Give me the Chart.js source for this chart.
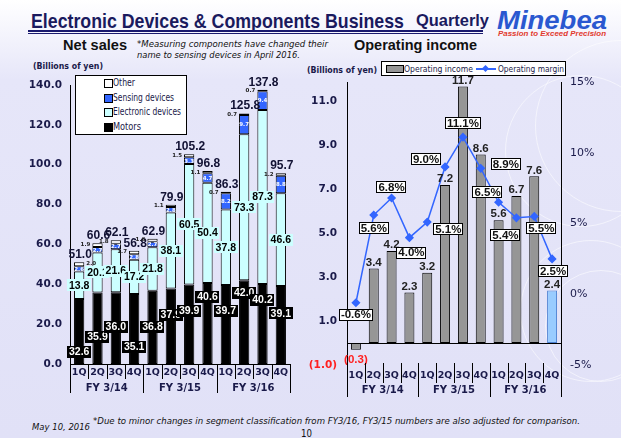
<!DOCTYPE html>
<html><head><meta charset="utf-8">
<script src="https://cdn.jsdelivr.net/npm/chart.js@4.4.0/dist/chart.umd.min.js"></script>
<style>
html,body{margin:0;padding:0}
body{width:621px;height:438px;position:relative;overflow:hidden;
 background:linear-gradient(to bottom,#ffffff 0px,#f6f6fd 28px,#e6e6f9 80px,#e1e1f7 438px);
 font-family:'Liberation Sans',Arial,sans-serif;color:#111}
.t{position:absolute;white-space:nowrap;transform-origin:0 50%;line-height:1;transform:translateY(-50%)}
.tah{font-family:'DejaVu Sans',sans-serif}
.circ{position:absolute;border:1.5px solid rgba(255,255,255,0.55);border-radius:50%}
canvas{position:absolute;z-index:2}
.lg{position:absolute;background:#fff;border:1px solid #000;box-sizing:border-box}
.sw{position:absolute;width:7px;height:7px;border:1px solid #000;box-sizing:content-box}
</style></head>
<body>
<div class="circ" style="left:505px;top:75px;width:150px;height:150px"></div>
<div class="circ" style="left:535px;top:40px;width:170px;height:170px"></div>
<div class="circ" style="left:545px;top:270px;width:110px;height:110px"></div>
<div class="circ" style="left:520px;top:240px;width:140px;height:140px"></div>

<div class="t" data-w="373" style="left:31px;top:20px;font-size:21px;font-weight:bold;color:#1a1a5e">Electronic Devices &amp; Components Business</div>
<div class="t" data-w="73" style="left:416px;top:21px;font-size:16px;font-weight:bold;color:#1a1a5e">Quarterly</div>
<div style="position:absolute;left:28px;top:30px;width:455px;height:2px;background:#1a1a6e"></div>
<div style="position:absolute;left:28px;top:33px;width:455px;height:1px;background:#1a1a6e"></div>
<div class="t" data-w="110" style="left:497px;top:20px;font-size:25px;font-weight:bold;font-style:italic;color:#2a58d0">Minebea</div>
<div class="t" data-w="108" style="left:498px;top:33px;font-size:7px;font-weight:bold;font-style:italic;color:#e23a2e">Passion to Exceed Precision</div>

<div class="t" data-w="64" style="left:63px;top:44px;font-size:15px;font-weight:bold">Net sales</div>
<div class="t tah" data-w="191" style="left:137px;top:44px;font-size:9.5px;font-style:italic">*Measuring components have changed their</div>
<div class="t tah" data-w="163" style="left:137px;top:55px;font-size:9.5px;font-style:italic">name to sensing devices in April 2016.</div>
<div class="t" data-w="123" style="left:354px;top:44px;font-size:15px;font-weight:bold">Operating income</div>
<div class="t tah" data-w="70" style="left:33px;top:66px;font-size:9.5px;font-weight:bold;color:#1a1a4a">(Billions of yen)</div>
<div class="t tah" data-w="70" style="left:307px;top:70px;font-size:9.5px;font-weight:bold;color:#1a1a4a">(Billions of yen)</div>

<div class="lg" style="left:75px;top:75px;width:112px;height:60px"></div>
<div class="sw" style="left:104px;top:79px;background:#fff"></div>
<div class="sw" style="left:104px;top:94px;background:#3366ff"></div>
<div class="sw" style="left:104px;top:108px;background:#ccffff"></div>
<div class="sw" style="left:104px;top:123px;background:#000"></div>
<div class="t tah" data-w="22" style="left:113px;top:83px;font-size:10px;color:#1a1a4a">Other</div>
<div class="t tah" data-w="61" style="left:113px;top:98px;font-size:10px;color:#1a1a4a">Sensing devices</div>
<div class="t tah" data-w="68" style="left:113px;top:112px;font-size:10px;color:#1a1a4a">Electronic devices</div>
<div class="t tah" data-w="28" style="left:113px;top:127px;font-size:10px;color:#1a1a4a">Motors</div>

<div class="lg" style="left:381px;top:61px;width:185px;height:15px"></div>
<div style="position:absolute;left:386px;top:65px;width:16px;height:6px;background:#969696;border:1px solid #000"></div>
<div class="t tah" data-w="69" style="left:404px;top:69px;font-size:9.5px;color:#1a1a4a">Operating income</div>
<div style="position:absolute;left:476px;top:68px;width:20px;height:1.5px;background:#3366ff"></div>
<div style="position:absolute;left:483px;top:65.5px;width:5px;height:5px;background:#3366ff;transform:rotate(45deg)"></div>
<div class="t tah" data-w="66" style="left:498px;top:69px;font-size:9.5px;color:#1a1a4a">Operating margin</div>

<canvas id="sales" width="300" height="340" style="left:0;top:60px"></canvas>
<canvas id="income" width="321" height="340" style="left:300px;top:60px"></canvas>

<div class="t tah" data-w="487" style="left:93px;top:421px;font-size:9px;font-style:italic">*Due to minor changes in segment classification from FY3/16, FY3/15 numbers are also adjusted for comparison.</div>
<div class="t tah" data-w="58" style="left:32px;top:427px;font-size:9px;font-style:italic">May 10, 2016</div>
<div class="t tah" data-w="11" style="left:301px;top:433px;font-size:11px">10</div>

<script>
// ---------- data ----------
const quarters = ['1Q','2Q','3Q','4Q','1Q','2Q','3Q','4Q','1Q','2Q','3Q','4Q'];
const fiscalYears = ['FY 3/14','FY 3/15','FY 3/16'];
const motors = [32.6,35.9,36.0,35.1,36.8,37.9,39.9,40.6,39.7,42.0,40.2,39.1];
const electronicDevices = [13.8,20.1,21.6,17.2,21.8,38.1,60.5,50.4,37.8,73.3,87.3,46.6];
const sensingDevices = [2.6,2.7,2.7,2.8,2.7,2.8,3.3,4.7,8.2,9.7,9.4,8.8];
const other = [2.0,1.9,1.8,1.7,1.6,1.1,1.5,1.1,0.7,0.7,0.7,1.2];
const netSalesTotal = [51.0,60.6,62.1,56.8,62.9,79.9,105.2,96.8,86.3,125.8,137.8,95.7];
const operatingIncome = [-0.3,3.4,4.2,2.3,3.2,7.2,11.7,8.6,5.6,6.7,7.6,2.4];
const operatingMargin = [-0.6,5.6,6.8,4.0,5.1,9.0,11.1,8.9,6.5,5.4,5.5,2.5];
const salesTicks = [0,20,40,60,80,100,120,140];
const incomeTicks = [-1,1,3,5,7,9,11];
const marginTicks = [-5,0,5,10,15];

// ---------- label layout (style, not data) ----------
const motorsLabelFrac = [0.19,0.38,0.52,0.25,0.51,0.65,0.67,0.83,0.67,0.85,0.80,0.65];
const marginLabelOffset = [[0,12],[0,13],[0,-11],[2,15],[21,7],[-19,-8],[0,-14],[25,-4],[-11,-10],[-11,17],[7,12],[1,12]];

const NAVY = '#1a1a4a';
const TF = "'DejaVu Sans',sans-serif";
const LF = "'Liberation Sans',Arial,sans-serif";

function boxText(ctx, txt, x, y, bg, fg, font, border){
  ctx.font = font;
  const w = ctx.measureText(txt).width;
  const h = 12;
  const bx = Math.round(x - w/2 - 2), by = Math.round(y - h/2), bw = Math.round(w + 4);
  ctx.fillStyle = bg; ctx.fillRect(bx, by, bw, h);
  if (border){ ctx.strokeStyle = border; ctx.lineWidth = 1; ctx.strokeRect(bx+0.5, by+0.5, bw-1, h-1); }
  ctx.fillStyle = fg; ctx.textAlign = 'center'; ctx.textBaseline = 'middle';
  ctx.fillText(txt, x, y + 0.5);
}

const groupAxis = {
  id: 'groupAxis',
  afterDraw(chart, args, o){
    const ctx = chart.ctx, xs = chart.scales.x, ca = chart.chartArea;
    const n = quarters.length, w = (ca.right - ca.left) / n;
    ctx.save();
    ctx.strokeStyle = '#000'; ctx.lineWidth = 1;
    for (let i = 0; i <= n; i++){
      const x = Math.round(ca.left + i*w) + 0.5;
      const len = (i % 4 === 0) ? o.yearLen : o.qLen;
      ctx.beginPath(); ctx.moveTo(x, ca.bottom + o.start); ctx.lineTo(x, ca.bottom + o.start + len); ctx.stroke();
    }
    ctx.fillStyle = NAVY; ctx.font = 'bold 10px ' + TF; ctx.textAlign = 'center'; ctx.textBaseline = 'middle';
    fiscalYears.forEach((fy, k) => {
      const x = (xs.getPixelForValue(4*k+1) + xs.getPixelForValue(4*k+2)) / 2;
      ctx.fillText(fy, x, ca.bottom + o.labelY);
    });
    ctx.restore();
  }
};

const salesLabels = {
  id: 'salesLabels',
  afterDatasetsDraw(chart){
    const ctx = chart.ctx, ys = chart.scales.y, ca = chart.chartArea;
    const m = chart.getDatasetMeta(0).data, e = chart.getDatasetMeta(1).data,
          s = chart.getDatasetMeta(2).data, ot = chart.getDatasetMeta(3).data;
    ctx.save();
    for (let i = 0; i < quarters.length; i++){
      boxText(ctx, motors[i].toFixed(1), m[i].x, ys.getPixelForValue(motors[i]*motorsLabelFrac[i]), '#000', '#fff', 'bold 10.5px ' + LF);
      boxText(ctx, electronicDevices[i].toFixed(1), e[i].x, (e[i].y + e[i].base)/2, '#ccffff', '#000', 'bold 10.5px ' + LF);
      ctx.font = 'bold 5.5px ' + TF; ctx.fillStyle = '#fff'; ctx.textAlign = 'center'; ctx.textBaseline = 'middle';
      ctx.fillText(sensingDevices[i].toFixed(1), s[i].x, (s[i].y + s[i].base)/2 + 0.5);
      ctx.font = 'bold 5.5px ' + TF; ctx.fillStyle = '#222';
      const tw = ctx.measureText(other[i].toFixed(1)).width;
      let ox = ot[i].x - ot[i].width/2 - 2, align = 'right';
      if (ox - tw < ca.left + 2){ ox = ot[i].x + ot[i].width/2 + 2; align = 'left'; }
      ctx.textAlign = align;
      ctx.fillText(other[i].toFixed(1), ox, ot[i].y + 1);
      ctx.font = 'bold 12px ' + LF; ctx.fillStyle = '#111133'; ctx.textAlign = 'center'; ctx.textBaseline = 'alphabetic';
      ctx.fillText(netSalesTotal[i].toFixed(1), ot[i].x + 1, ot[i].y - 4);
    }
    ctx.restore();
  }
};

const incomeLabels = {
  id: 'incomeLabels',
  beforeDatasetsDraw(chart){
    const ctx = chart.ctx, ys = chart.scales.y, ca = chart.chartArea;
    const y0 = Math.round(ys.getPixelForValue(0)) + 0.5;
    ctx.save(); ctx.strokeStyle = '#000'; ctx.lineWidth = 1;
    ctx.beginPath(); ctx.moveTo(ca.left, y0); ctx.lineTo(ca.right, y0); ctx.stroke();
    ctx.restore();
  },
  afterDatasetsDraw(chart){
    const ctx = chart.ctx;
    const bars = chart.getDatasetMeta(1).data, pts = chart.getDatasetMeta(0).data;
    ctx.save();
    ctx.textAlign = 'center'; ctx.textBaseline = 'middle';
    for (let i = 0; i < quarters.length; i++){
      const v = operatingIncome[i];
      ctx.font = 'bold 11.5px ' + LF;
      if (v < 0){
        ctx.fillStyle = '#ff2020';
        ctx.fillText('(' + Math.abs(v).toFixed(1) + ')', bars[i].x, bars[i].y + 10);
      } else {
        ctx.fillStyle = '#222';
        ctx.fillText(v.toFixed(1), bars[i].x, bars[i].y - 6);
      }
    }
    for (let i = 0; i < quarters.length; i++){
      const [dx, dy] = marginLabelOffset[i];
      boxText(ctx, operatingMargin[i].toFixed(1) + '%', pts[i].x + dx, pts[i].y + dy, '#fff', '#111', 'bold 11.5px ' + LF, '#000');
    }
    ctx.restore();
  }
};

const fixedTicks = arr => scale => { scale.ticks = arr.map(v => ({value: v})); };

new Chart(document.getElementById('sales'), {
  type: 'bar',
  data: {
    labels: quarters,
    datasets: [
      {label: 'Motors', data: motors, backgroundColor: '#000000'},
      {label: 'Electronic devices', data: electronicDevices, backgroundColor: '#ccffff'},
      {label: 'Sensing devices', data: sensingDevices, backgroundColor: '#3366ff'},
      {label: 'Other', data: other, backgroundColor: '#ffffff'}
    ].map(d => Object.assign(d, {borderColor: '#000', borderWidth: 1, borderSkipped: false, barPercentage: 0.56, categoryPercentage: 1}))
  },
  options: {
    responsive: false, animation: false, devicePixelRatio: 1,
    layout: {padding: {top: 25, right: 10, left: 0, bottom: 0}},
    plugins: {legend: {display: false}, tooltip: {enabled: false}, groupAxis: {start: 0, qLen: 15, yearLen: 29, labelY: 24}},
    scales: {
      x: {stacked: true, grid: {display: false, drawTicks: false}, border: {display: true, color: '#000', width: 1},
          ticks: {color: NAVY, font: {family: TF, size: 9.5, weight: 'bold'}, padding: 3, maxRotation: 0, autoSkip: false},
          afterFit: s => { s.height = 36; }},
      y: {stacked: true, min: 0, max: 140, afterBuildTicks: fixedTicks(salesTicks),
          grid: {display: false, drawTicks: false}, border: {display: true, color: '#000', width: 1},
          ticks: {color: NAVY, font: {family: TF, size: 10.5, weight: 'bold'}, padding: 8, callback: v => Number(v).toFixed(1)},
          afterFit: s => { s.width = 70; }}
    }
  },
  plugins: [salesLabels, groupAxis]
});

new Chart(document.getElementById('income'), {
  type: 'bar',
  data: {
    labels: quarters,
    datasets: [
      {type: 'line', label: 'Operating margin', data: operatingMargin, yAxisID: 'y1', order: 0,
       borderColor: '#3366ff', borderWidth: 1.5, pointStyle: 'rectRot', pointRadius: 3.5,
       pointBackgroundColor: '#3366ff', pointBorderColor: '#3366ff', tension: 0},
      {type: 'bar', label: 'Operating income', data: operatingIncome, yAxisID: 'y', order: 1,
       backgroundColor: operatingIncome.map((v, i) => i === operatingIncome.length - 1 ? '#99ccff' : '#969696'),
       borderColor: operatingIncome.map((v, i) => i === operatingIncome.length - 1 ? '#4a7ed0' : '#000'),
       borderWidth: 1, borderSkipped: false, barPercentage: 0.56, categoryPercentage: 1}
    ]
  },
  options: {
    responsive: false, animation: false, devicePixelRatio: 1,
    layout: {padding: {top: 22, right: 0, left: 0, bottom: 0}},
    plugins: {legend: {display: false}, tooltip: {enabled: false}, groupAxis: {start: -2, qLen: 20, yearLen: 34, labelY: 25}},
    scales: {
      x: {grid: {display: false, drawTicks: false}, border: {display: false},
          ticks: {color: NAVY, font: {family: TF, size: 9.5, weight: 'bold'}, padding: 5, maxRotation: 0, autoSkip: false},
          afterFit: s => { s.height = 35; }},
      y: {position: 'left', min: -1, max: 11.9, afterBuildTicks: fixedTicks(incomeTicks),
          grid: {display: false, drawTicks: false}, border: {display: true, color: '#000', width: 1},
          ticks: {font: {family: TF, size: 10.5, weight: 'bold'}, padding: 10,
                  color: c => c.tick && c.tick.value < 0 ? '#ff2020' : NAVY,
                  callback: v => v < 0 ? '(' + Math.abs(v).toFixed(1) + ')' : Number(v).toFixed(1)},
          afterFit: s => { s.width = 47; }},
      y1: {position: 'right', min: -5, max: 15, afterBuildTicks: fixedTicks(marginTicks),
          grid: {display: false, drawTicks: false}, border: {display: true, color: '#000', width: 1},
          ticks: {color: NAVY, font: {family: TF, size: 11}, padding: 9, callback: v => v + '%'},
          afterFit: s => { s.width = 60; }}
    }
  },
  plugins: [incomeLabels, groupAxis]
});

function fitTexts(){
  document.querySelectorAll('[data-w]').forEach(el => {
    el.style.transform = 'translateY(-50%)';
    const cur = el.getBoundingClientRect().width;
    if (cur > 0) el.style.transform = 'translateY(-50%) scaleX(' + (Number(el.dataset.w) / cur) + ')';
  });
}
fitTexts();
if (document.fonts && document.fonts.ready) document.fonts.ready.then(fitTexts);
</script>
</body></html>
